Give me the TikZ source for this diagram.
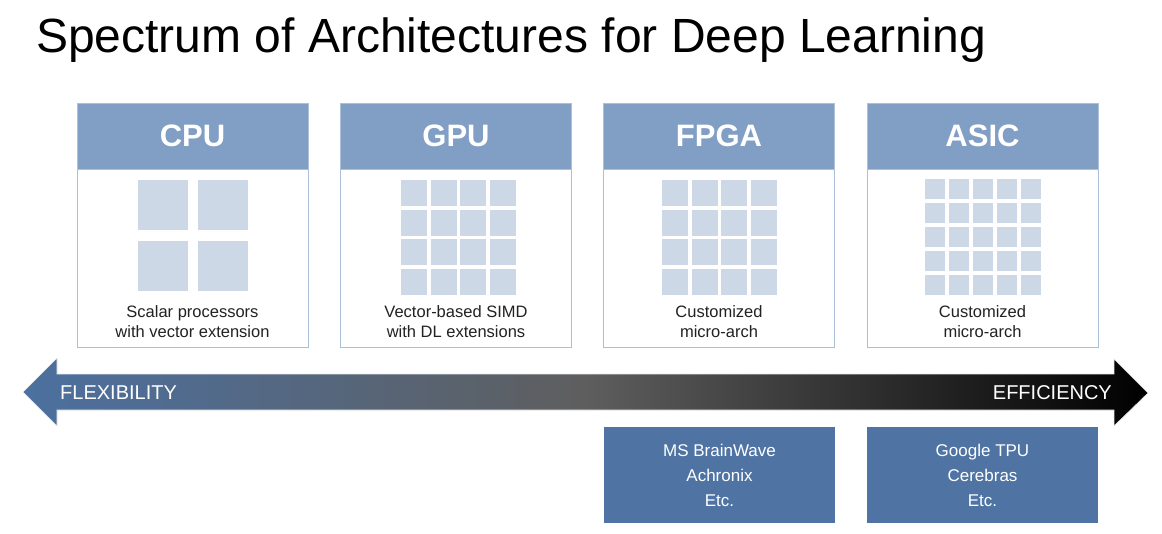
\documentclass[tikz,border=0pt]{standalone}
\usepackage{fontspec}
\setmainfont{Liberation Sans}
\usetikzlibrary{calc}
\definecolor{headcolor}{RGB}{129,158,196}
\definecolor{edgecolor}{RGB}{172,192,217}
\definecolor{cellcolor}{RGB}{205,216,231}
\definecolor{boxcolor}{RGB}{79,116,164}
\definecolor{flexcolor}{RGB}{76,112,160}
\definecolor{midcolor}{RGB}{94,94,94}
\definecolor{captcolor}{RGB}{34,34,34}

\tikzset{
  header/.style={draw=edgecolor, line width=1pt, fill=headcolor, text=white,
    minimum width=231, minimum height=66, inner sep=0,
    font=\fontsize{31}{36}\selectfont\bfseries},
  panel/.style={draw=edgecolor, line width=1pt, fill=white,
    minimum width=231, minimum height=178, inner sep=0},
  caption/.style={text=captcolor, align=center, inner sep=0,
    font=\fontsize{16.5}{20}\selectfont},
  vendor/.style={fill=boxcolor, text=white, align=center,
    minimum width=231, minimum height=96, inner sep=0,
    font=\fontsize{17}{25}\selectfont},
  cell/.style={fill=cellcolor, draw=none}
}

\begin{document}
\begin{tikzpicture}[x=1pt, y=-1pt]
\useasboundingbox (0,0) rectangle (1162,533);

% title
\node[anchor=base west, inner sep=0, font=\fontsize{48}{56}\selectfont] (title) at (36,52) {Spectrum of Architectures for Deep Learning};

% panels
\node[panel] (cpubody) at (192.5,258) {};
\node[header] (cpu) at (192.5,136) {CPU};
\node[panel] (gpubody) at (456,258) {};
\node[header] (gpu) at (456,136) {GPU};
\node[panel] (fpgabody) at (719,258) {};
\node[header] (fpga) at (719,136) {FPGA};
\node[panel] (asicbody) at (982.5,258) {};
\node[header] (asic) at (982.5,136) {ASIC};

% CPU cores
\foreach\x in {0, 1}
\foreach\y in {0, 1}
\fill[cell] (137.5+60*\x, 180+61*\y) rectangle ++(50,50);

% GPU cores
\foreach\x in {0, 1, ..., 3}
\foreach\y in {0, 1, ..., 3}
\fill[cell] (401+29.5*\x, 180+29.5*\y) rectangle ++(26,26);

% FPGA blocks
\foreach\x in {0, 1, ..., 3}
\foreach\y in {0, 1, ..., 3}
\fill[cell] (662+29.5*\x, 180+29.5*\y) rectangle ++(26,26);

% ASIC units
\foreach\x in {0, 1, ..., 4}
\foreach\y in {0, 1, ..., 4}
\fill[cell] (925+24*\x, 179+24*\y) rectangle ++(20,20);

% captions
\node[caption] (cpucap) at (192.5,322) {Scalar processors\\with vector extension};
\node[caption] (gpucap) at (456,322) {Vector-based SIMD\\with DL extensions};
\node[caption] (fpgacap) at (719,322) {Customized\\micro-arch};
\node[caption] (asiccap) at (982.5,322) {Customized\\micro-arch};

% spectrum arrow
\shade[left color=flexcolor, right color=black, middle color=midcolor,
  draw=white!85!gray, line width=0.6pt]
  (23,392) -- (57,358) -- (57,374) -- (1114,374) -- (1114,359)
  -- (1148,393) -- (1114,426) -- (1114,410) -- (57,410) -- (57,426) -- cycle;
\node[anchor=west, text=white, inner sep=0, font=\fontsize{20}{24}\selectfont] (flex) at (60,393) {FLEXIBILITY};
\node[anchor=east, text=white, inner sep=0, font=\fontsize{20}{24}\selectfont] (eff) at (1112,393) {EFFICIENCY};

% examples
\node[vendor] (fpgaex) at (719.5,475) {MS BrainWave\\Achronix\\Etc.};
\node[vendor] (asicex) at (982.5,475) {Google TPU\\Cerebras\\Etc.};
\end{tikzpicture}
\end{document}
